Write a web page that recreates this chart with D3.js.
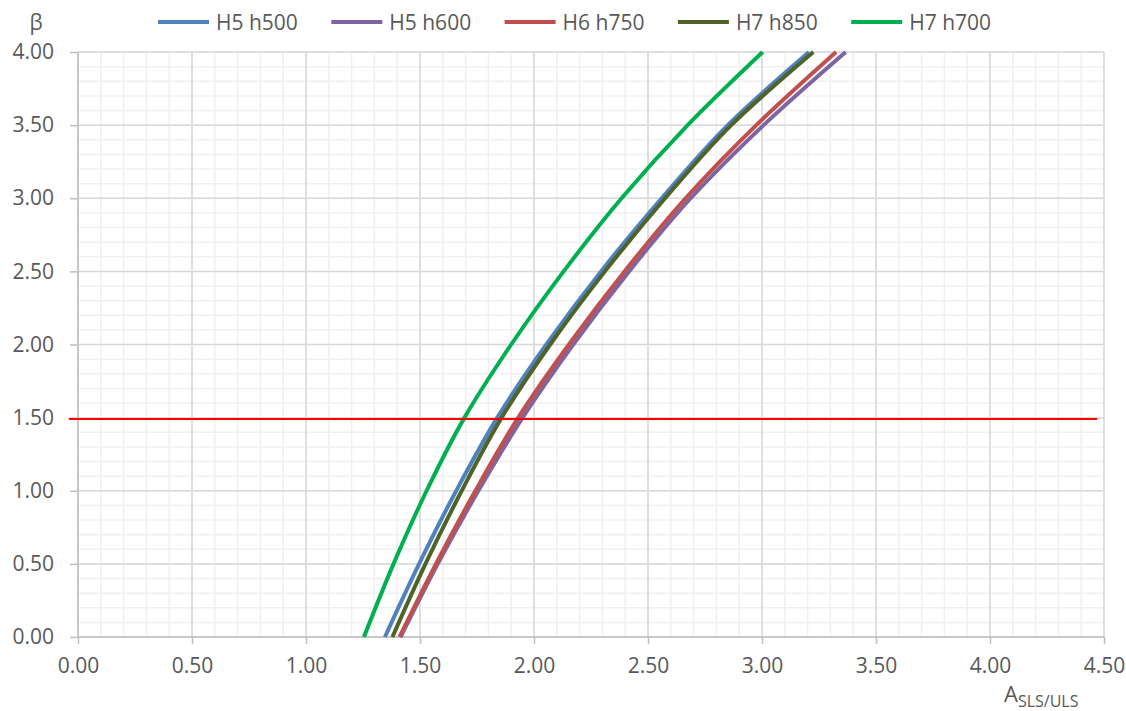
<!DOCTYPE html>
<html>
<head>
<meta charset="utf-8">
<script src="https://cdn.jsdelivr.net/npm/d3@7"></script>
<style>
  html, body { margin: 0; padding: 0; background: #ffffff; }
  svg { display: block; font-family: "Open Sans", "Liberation Sans", sans-serif; }
</style>
</head>
<body>
<svg id="chart" width="1126" height="711"></svg>
<script>
// ---- data ----
const betaLevels = [0, 0.5, 1.0, 1.5, 2.0, 2.5, 3.0, 3.5, 4.0];
const seriesNames = ["H5 h500", "H5 h600", "H6 h750", "H7 h850", "H7 h700"];
const seriesColors = ["#4f81bd", "#8064a2", "#c0504d", "#4f6228", "#00b050"];
const h5h500 = [1.346, 1.496, 1.659, 1.839, 2.054, 2.294, 2.560, 2.850, 3.206];
const h5h600 = [1.415, 1.578, 1.756, 1.950, 2.172, 2.417, 2.687, 3.007, 3.367];
const h6h750 = [1.410, 1.570, 1.743, 1.931, 2.153, 2.397, 2.665, 2.975, 3.325];
const h7h850 = [1.379, 1.524, 1.683, 1.858, 2.071, 2.311, 2.575, 2.865, 3.225];
const h7h700 = [1.254, 1.384, 1.529, 1.695, 1.900, 2.130, 2.384, 2.674, 3.003];
const seriesValues = [h5h500, h5h600, h6h750, h7h850, h7h700];
const refBeta = 1.49;
const refX = [-0.04, 4.47];
const xTicks = [0, 0.5, 1.0, 1.5, 2.0, 2.5, 3.0, 3.5, 4.0, 4.5];
const yTicks = [0, 0.5, 1.0, 1.5, 2.0, 2.5, 3.0, 3.5, 4.0];
const xMinor = d3.range(0, 46).map(i => i / 10);
const yMinor = d3.range(0, 41).map(i => i / 10);

// ---- layout ----
const svg = d3.select("#chart");
const x = d3.scaleLinear().domain([0, 4.5]).range([78, 1104]);
const y = d3.scaleLinear().domain([0, 4]).range([637, 52]);

// minor grid
const g = svg.append("g");
g.selectAll("line.vminor").data(xMinor).enter().append("line")
  .attr("x1", d => x(d)).attr("x2", d => x(d)).attr("y1", y(4)).attr("y2", y(0))
  .attr("stroke", "#f0f0f0").attr("stroke-width", 1.5);
g.selectAll("line.hminor").data(yMinor).enter().append("line")
  .attr("y1", d => y(d)).attr("y2", d => y(d)).attr("x1", x(0)).attr("x2", x(4.5))
  .attr("stroke", "#f0f0f0").attr("stroke-width", 1.5);
// major grid
g.selectAll("line.vmajor").data(xTicks).enter().append("line")
  .attr("x1", d => x(d)).attr("x2", d => x(d)).attr("y1", y(4)).attr("y2", y(0))
  .attr("stroke", "#d9d9d9").attr("stroke-width", 1.5);
g.selectAll("line.hmajor").data(yTicks).enter().append("line")
  .attr("y1", d => y(d)).attr("y2", d => y(d)).attr("x1", x(0)).attr("x2", x(4.5))
  .attr("stroke", "#d9d9d9").attr("stroke-width", 1.5);

// axes
const fmt = d3.format(".2f");
const xAxis = d3.axisBottom(x).tickValues(xTicks).tickFormat(fmt).tickSize(7).tickPadding(14);
const yAxis = d3.axisLeft(y).tickValues(yTicks).tickFormat(fmt).tickSize(8).tickPadding(16);
const gx = svg.append("g").attr("transform", `translate(0,${y(0)})`).call(xAxis);
const gy = svg.append("g").attr("transform", `translate(${x(0)},0)`).call(yAxis);
[gx, gy].forEach(a => {
  a.select(".domain").attr("stroke", "#bfbfbf").attr("stroke-width", 1.5);
  a.selectAll(".tick line").attr("stroke", "#bfbfbf").attr("stroke-width", 1.5);
  a.selectAll(".tick text").attr("fill", "#595959").attr("font-size", 21)
    .attr("font-family", "'Open Sans', 'Liberation Sans', sans-serif");
});
gx.select(".domain").attr("d", `M${x(0)},0H${x(4.5)}`);
gy.select(".domain").attr("d", `M0,${y(0)}V${y(4)}`);

// series
const line = d3.line().x(d => x(d[0])).y(d => y(d[1])).curve(d3.curveMonotoneY);
seriesValues.forEach((vals, i) => {
  const pts = vals.map((v, j) => [v, betaLevels[j]]);
  svg.append("path").datum(pts).attr("d", line)
    .attr("fill", "none").attr("stroke", seriesColors[i])
    .attr("stroke-width", 4).attr("stroke-linecap", "butt");
});

// reference line
svg.append("line")
  .attr("x1", x(refX[0])).attr("x2", x(refX[1]))
  .attr("y1", y(refBeta)).attr("y2", y(refBeta))
  .attr("stroke", "#ff0000").attr("stroke-width", 2);

// axis titles
svg.append("text").attr("x", 36).attr("y", 30).attr("text-anchor", "middle")
  .attr("fill", "#595959").attr("font-size", 21).text("β");
const xt = svg.append("text").attr("x", 1004).attr("y", 702).attr("fill", "#595959").attr("font-size", 22);
xt.append("tspan").text("A");
xt.append("tspan").attr("dy", 5).attr("font-size", 16).text("SLS/ULS");

// legend
const leg = svg.append("g");
seriesNames.forEach((name, i) => {
  const lx = 158 + i * 173.3;
  leg.append("line").attr("x1", lx).attr("x2", lx + 51).attr("y1", 22).attr("y2", 22)
    .attr("stroke", seriesColors[i]).attr("stroke-width", 4);
  leg.append("text").attr("x", lx + 58).attr("y", 30).attr("fill", "#595959")
    .attr("font-size", 21).text(name);
});
</script>
</body>
</html>
